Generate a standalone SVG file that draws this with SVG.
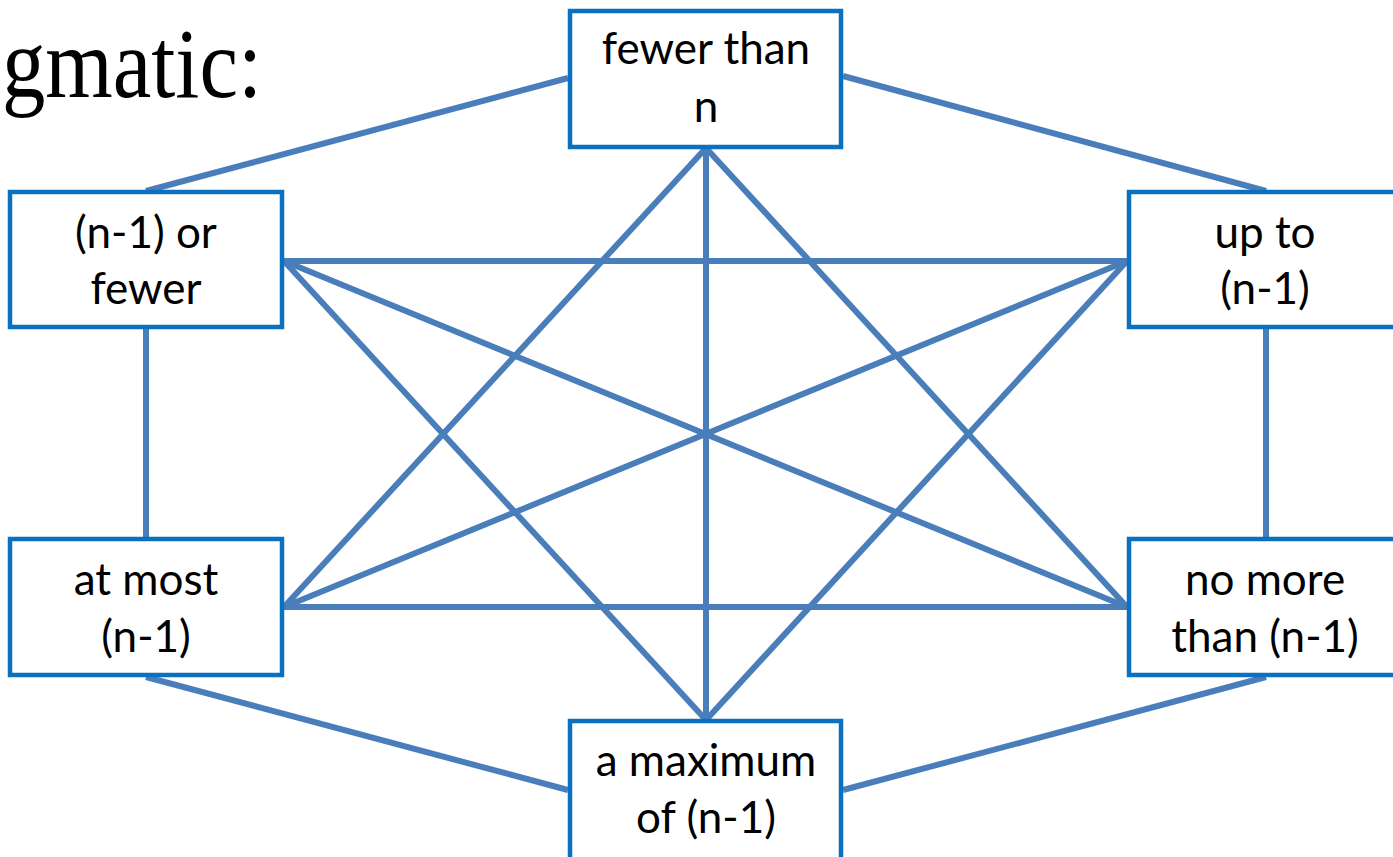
<svg xmlns="http://www.w3.org/2000/svg" width="1393" height="857" viewBox="0 0 1393 857">
  <style>
    .edge { stroke: #4a7ebb; stroke-width: 6; fill: none; stroke-linecap: butt; }
    .box { fill: #ffffff; stroke: #0a70bf; stroke-width: 4.5; }
    .lbl { font-family: Lato, "Open Sans", "Liberation Sans", sans-serif; font-size: 44px; fill: #000000; text-anchor: middle; }
    .title { font-family: "Liberation Serif", "DejaVu Serif", serif; font-size: 100px; fill: #000000; }
  </style>

  <rect x="0" y="0" width="1393" height="857" fill="#ffffff"/>

  <text class="title" x="2" y="97" textLength="260" lengthAdjust="spacingAndGlyphs">gmatic:</text>

  <!-- connectors: every pair of the six boxes is linked -->
  <g id="connectors">
    <line class="edge" x1="568" y1="78" x2="146" y2="191"/>
    <line class="edge" x1="843" y1="76" x2="1266" y2="191"/>
    <line class="edge" x1="146" y1="329" x2="146" y2="538"/>
    <line class="edge" x1="1266" y1="329" x2="1266" y2="538"/>
    <line class="edge" x1="146" y1="677" x2="568" y2="790"/>
    <line class="edge" x1="1266" y1="677" x2="843" y2="790"/>
    <line class="edge" x1="706" y1="148" x2="706" y2="720"/>
    <line class="edge" x1="706" y1="148" x2="284" y2="607"/>
    <line class="edge" x1="706" y1="148" x2="1127" y2="607"/>
    <line class="edge" x1="284" y1="261" x2="1127" y2="261"/>
    <line class="edge" x1="284" y1="261" x2="1127" y2="607"/>
    <line class="edge" x1="284" y1="261" x2="706" y2="720"/>
    <line class="edge" x1="1127" y1="261" x2="284" y2="607"/>
    <line class="edge" x1="1127" y1="261" x2="706" y2="720"/>
    <line class="edge" x1="284" y1="607" x2="1127" y2="607"/>
  </g>

  <g id="node-top">
    <rect class="box" x="570" y="11" width="271" height="136"/>
    <text class="lbl" x="706" y="64">fewer than</text>
    <text class="lbl" x="706" y="122">n</text>
  </g>

  <g id="node-left-upper">
    <rect class="box" x="10" y="192" width="272" height="135"/>
    <text class="lbl" x="146" y="248">(n-1) or</text>
    <text class="lbl" x="146" y="304">fewer</text>
  </g>

  <g id="node-right-upper">
    <rect class="box" x="1129" y="192" width="272" height="135"/>
    <text class="lbl" x="1265" y="248">up to</text>
    <text class="lbl" x="1265" y="304">(n-1)</text>
  </g>

  <g id="node-left-lower">
    <rect class="box" x="10" y="539" width="272" height="136"/>
    <text class="lbl" x="146" y="595">at most</text>
    <text class="lbl" x="146" y="652">(n-1)</text>
  </g>

  <g id="node-right-lower">
    <rect class="box" x="1129" y="539" width="272" height="136"/>
    <text class="lbl" x="1265" y="595">no more</text>
    <text class="lbl" x="1265" y="652">than (n-1)</text>
  </g>

  <g id="node-bottom">
    <rect class="box" x="570" y="721" width="271" height="140"/>
    <text class="lbl" x="706" y="776">a maximum</text>
    <text class="lbl" x="706" y="833">of (n-1)</text>
  </g>
</svg>
